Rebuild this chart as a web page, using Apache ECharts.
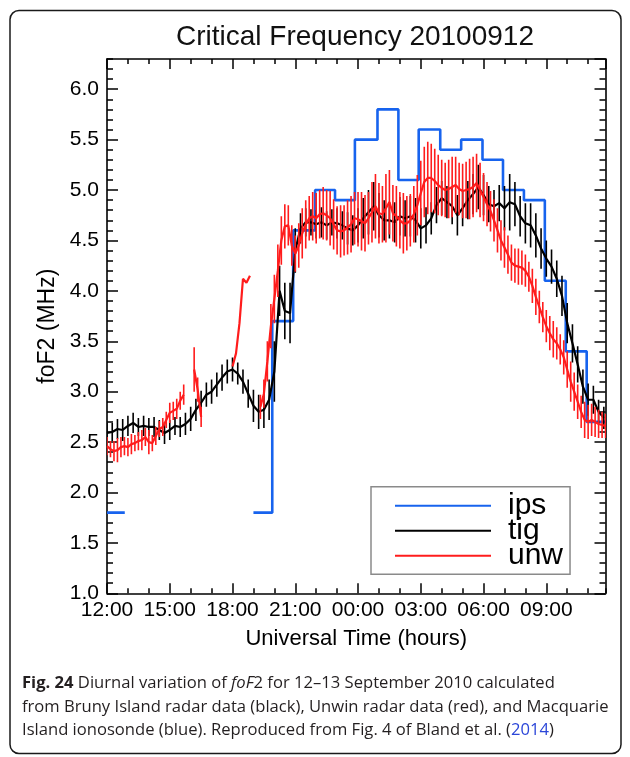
<!DOCTYPE html>
<html><head><meta charset="utf-8">
<script src="https://cdn.jsdelivr.net/npm/echarts@6/dist/echarts.min.js"></script>
<style>html,body{margin:0;padding:0;background:#fff}#c{width:630px;height:757px}</style>
</head><body><div id="c"></div>
<script>
// ---------- data ----------
const xTickLabels = ['12:00','15:00','18:00','21:00','00:00','03:00','06:00','09:00'];
// ips (Macquarie Island ionosonde): time (hours since 00:00 12 Sep) and foF2 (MHz), step values
const ipsTime = [12.0, 12.85, 12.85, 19.0, 19.9, 20.9, 21.95, 22.9, 23.85, 24.93, 25.93, 26.9, 27.93, 28.93, 29.95, 30.93, 31.93, 32.93, 33.93, 34.93, 35.83];
const ipsVal  = [1.8,  1.8,  null,  1.8,  3.7,  4.6,  5.0,   4.9,  5.5,   5.8,   5.1,   5.6,  5.4,   5.5,   5.3,   5.0,   4.9,   4.1,   3.4,   2.7,   2.7];
// tig (Bruny Island radar): 15-min samples from 12:00
const tigStart = 12, tigStep = 0.25;
const tigVal = [
  2.59, 2.60, 2.63, 2.62,  2.66, 2.69, 2.65, 2.66,  2.65, 2.65, 2.62, 2.59,  2.62, 2.66, 2.65, 2.68,
  2.73, 2.82, 2.89, 2.97,  3.00, 3.07, 3.14, 3.20,  3.22, 3.18, 3.10, 2.98,  2.86, 2.80, 2.82, 2.92,
  3.20, 4.00, 3.80, 3.78,  4.40, 4.62, 4.68, 4.68,  4.66, 4.68, 4.65, 4.68,  4.67, 4.65, 4.62, 4.60,
  4.65, 4.72, 4.78, 4.84,  4.75, 4.70, 4.70, 4.68,  4.74, 4.72, 4.74, 4.70,  4.62, 4.65, 4.72, 4.85,
  4.92, 4.88, 4.84, 4.75,  4.82, 4.90, 4.96, 5.03,  4.95, 4.86, 4.84, 4.87,  4.82, 4.88, 4.86, 4.74,
  4.67, 4.65, 4.55, 4.42,  4.32, 4.24, 4.12, 3.95,  3.68, 3.48, 3.27, 3.05,  2.92, 2.92, 2.80, 2.74
];
const tigErr = [
  0.10, 0.09, 0.10, 0.11,  0.10, 0.10, 0.09, 0.10,  0.09, 0.10, 0.10, 0.11,  0.10, 0.09, 0.10, 0.11,
  0.12, 0.11, 0.12, 0.12,  0.12, 0.12, 0.13, 0.12,  0.12, 0.11, 0.12, 0.14,  0.16, 0.17, 0.18, 0.20,
  0.30, 0.25, 0.28, 0.30,  0.22, 0.15, 0.14, 0.13,  0.14, 0.15, 0.14, 0.13,  0.15, 0.14, 0.16, 0.15,
  0.17, 0.20, 0.22, 0.24,  0.22, 0.20, 0.18, 0.20,  0.19, 0.18, 0.20, 0.22,  0.20, 0.18, 0.16, 0.18,
  0.17, 0.16, 0.18, 0.20,  0.18, 0.19, 0.20, 0.22,  0.20, 0.18, 0.16, 0.18,  0.22, 0.28, 0.22, 0.20,
  0.20, 0.22, 0.22, 0.20,  0.18, 0.17, 0.18, 0.20,  0.20, 0.19, 0.18, 0.17,  0.16, 0.14, 0.12, 0.11
];
// unw (Unwin radar): 10-min samples from 12:00
const unwStart = 12, unwStep = 1 / 6;
const unwVal = [
  2.46, 2.43, 2.41, 2.42, 2.45, 2.46,
  2.45, 2.48, 2.49, 2.51, 2.52, 2.55,
  2.50, 2.49, 2.56, 2.63, 2.65, 2.72,
  2.79, 2.81, 2.83, 2.91, 2.97, null,
  null, 3.22, 3.02, 2.75, null, null,
  null, null, null, null, null, null,
  3.25, 3.38, 3.68, 4.12, 4.08, 4.15,
  null, null, 2.85, 2.98, 3.30, 3.65,
  3.92, 4.20, 4.50, 4.64, 4.65, 4.45,
  4.37, 4.45, 4.57, 4.66, 4.72, 4.74,
  4.72, 4.76, 4.77, 4.75, 4.72, 4.66,
  4.60, 4.59, 4.60, 4.63, 4.66, 4.72,
  4.71, 4.69, 4.67, 4.72, 4.78, 4.84,
  4.77, 4.76, 4.82, 4.88, 4.77, 4.74,
  4.70, 4.67, 4.67, 4.70, 4.76, 4.85,
  4.97, 5.08, 5.12, 5.12, 5.09, 5.05,
  5.02, 5.00, 5.01, 5.03, 5.05, 5.01,
  4.99, 5.00, 5.01, 5.03, 5.07, 5.00,
  4.93, 4.86, 4.79, 4.70, 4.60, 4.50,
  4.43, 4.36, 4.28, 4.25, 4.24, 4.23,
  4.20, 4.14, 4.05, 3.94, 3.84, 3.74,
  3.65, 3.58, 3.52, 3.48, 3.42, 3.34,
  3.22, 3.10, 3.00, 2.90, 2.80, 2.72,
  2.70, 2.72, 2.70, 2.68, 2.67, 2.66
];
const unwErr = [
  0.09, 0.08, 0.10, 0.12, 0.10, 0.09,
  0.09, 0.10, 0.08, 0.09, 0.10, 0.09,
  0.12, 0.08, 0.09, 0.08, 0.09, 0.08,
  0.10, 0.09, 0.10, 0.09, 0.10, 0,
  0, 0.22, 0.12, 0.10, 0, 0,
  0, 0, 0, 0, 0, 0,
  0, 0, 0, 0, 0, 0,
  0, 0, 0.12, 0.14, 0.20, 0.22,
  0.24, 0.26, 0.24, 0.22, 0.20, 0.20,
  0.18, 0.22, 0.25, 0.24, 0.22, 0.24,
  0.25, 0.24, 0.26, 0.25, 0.27, 0.25,
  0.24, 0.26, 0.25, 0.27, 0.28, 0.26,
  0.27, 0.29, 0.28, 0.26, 0.30, 0.32,
  0.30, 0.28, 0.34, 0.32, 0.28, 0.30,
  0.28, 0.30, 0.27, 0.26, 0.28, 0.30,
  0.32, 0.35, 0.36, 0.34, 0.32, 0.30,
  0.28, 0.27, 0.29, 0.30, 0.28, 0.26,
  0.27, 0.28, 0.30, 0.30, 0.29, 0.27,
  0.24, 0.22, 0.20, 0.21, 0.22, 0.20,
  0.20, 0.19, 0.18, 0.17, 0.18, 0.17,
  0.16, 0.15, 0.17, 0.18, 0.16, 0.15,
  0.16, 0.17, 0.18, 0.16, 0.15, 0.17,
  0.18, 0.20, 0.19, 0.17, 0.16, 0.18,
  0.17, 0.16, 0.15, 0.14, 0.13, 0.12
];
const seriesNames = ['ips', 'tig', 'unw'];
const titleText = 'Critical Frequency 20100912';
const captionLines = [
  '{b|Fig. 24} Diurnal variation of {i|foF}2 for 12\u201313 September 2010 calculated',
  'from Bruny Island radar data (black), Unwin radar data (red), and Macquarie',
  'Island ionosonde (blue). Reproduced from Fig. 4 of Bland et al. ({l|2014})'
];

// ---------- build ----------
const FONT = "'Liberation Sans', Arial, Helvetica, sans-serif";
const CFONT = "'Open Sans', 'Noto Sans', sans-serif";
const CSIZE = 16.6, CLH = 23.5;
const X_MIN = 12, X_MAX = 35.83, Y_MIN = 1, Y_MAX = 6.3;
const BLUE = '#1763ee', RED = '#ff1c1c', BLACK = '#000000';

const ipsData = ipsTime.map((t, i) => [t, ipsVal[i] == null ? '-' : ipsVal[i]]);
const tigData = tigVal.map((v, i) => [tigStart + i * tigStep, v == null ? '-' : v]);
const unwData = unwVal.map((v, i) => [unwStart + i * unwStep, v == null ? '-' : v]);
function bars(start, step, vals, errs) {
  const out = [];
  vals.forEach((v, i) => { if (v != null && errs[i] > 0) out.push([start + i * step, v - errs[i], v + errs[i]]); });
  return out;
}
const tigBars = bars(tigStart, tigStep, tigVal, tigErr);
const unwBars = bars(unwStart, unwStep, unwVal, unwErr);

function errSeries(data, color) {
  return {
    type: 'custom', data: data, xAxisIndex: 0, yAxisIndex: 0, clip: true, silent: true,
    encode: { x: 0, y: [1, 2] },
    renderItem: function (params, api) {
      const p1 = api.coord([api.value(0), api.value(1)]);
      const p2 = api.coord([api.value(0), api.value(2)]);
      return { type: 'line', shape: { x1: p1[0], y1: p1[1], x2: p2[0], y2: p2[1] },
               style: { stroke: color, lineWidth: 1.6 } };
    }
  };
}

const tickStyle = { color: '#000', width: 1.5 };
function xAx(pos, interval, len, labels, line) {
  return {
    type: 'value', position: pos, min: X_MIN, max: X_MAX, interval: interval, gridIndex: 0,
    axisLine: { show: line, lineStyle: { color: '#000', width: 1.6 } },
    axisTick: { show: true, inside: true, length: len, lineStyle: tickStyle },
    splitLine: { show: false },
    axisLabel: labels ? {
      show: true, showMaxLabel: false, margin: 6, color: '#000', fontSize: 21, fontFamily: FONT,
      formatter: v => xTickLabels[Math.round((v - X_MIN) / 3)] || ''
    } : { show: false },
    name: labels ? 'Universal Time (hours)' : '', nameLocation: 'middle', nameGap: 35,
    nameTextStyle: { color: '#000', fontSize: 22, fontFamily: FONT }
  };
}
function yAx(pos, interval, len, labels, line) {
  return {
    type: 'value', position: pos, min: Y_MIN, max: Y_MAX, interval: interval, gridIndex: 0,
    axisLine: { show: line, lineStyle: { color: '#000', width: 1.6 } },
    axisTick: { show: true, inside: true, length: len, lineStyle: tickStyle },
    splitLine: { show: false },
    axisLabel: labels ? {
      show: true, showMaxLabel: false, margin: 8, color: '#000', fontSize: 21, fontFamily: FONT,
      formatter: v => v.toFixed(1)
    } : { show: false },
    name: labels ? 'foF2 (MHz)' : '', nameLocation: 'middle', nameGap: 30,
    nameTextStyle: { color: '#000', fontSize: 23, fontFamily: FONT }
  };
}

const option = {
  animation: false,
  backgroundColor: '#fff',
  title: { text: titleText, left: 171, top: 18,
           textStyle: { fontSize: 28, fontWeight: 'normal', fontFamily: FONT, color: '#111' } },
  grid: { left: 107, top: 59, width: 498.5, height: 534.3, containLabel: false },
  xAxis: [ xAx('bottom', 3, 10, true, true), xAx('bottom', 1, 5, false, false),
           xAx('top', 3, 10, false, true), xAx('top', 1, 5, false, false) ],
  yAxis: [ yAx('left', 0.5, 11, true, true), yAx('left', 0.1, 6, false, false),
           yAx('right', 0.5, 11, false, true), yAx('right', 0.1, 6, false, false) ],
  legend: {
    data: seriesNames, orient: 'vertical', left: 371, top: 486.7,
    itemWidth: 96, itemHeight: 25, itemGap: -9, selectedMode: false,
    padding: [2, 7, 1.6, 23], borderColor: '#8a8a8a', borderWidth: 1.5,
    itemStyle: { opacity: 0 },
    textStyle: { fontSize: 30, lineHeight: 25, padding: [0, 0, 9, 12], color: '#000', fontFamily: FONT }
  },
  series: [
    { name: seriesNames[0], type: 'line', data: ipsData, step: 'end', showSymbol: false,
      connectNulls: false, lineStyle: { color: BLUE, width: 2.6 }, itemStyle: { color: BLUE }, z: 2 },
    Object.assign(errSeries(tigBars, BLACK), { z: 3 }),
    { name: seriesNames[1], type: 'line', data: tigData, showSymbol: false,
      connectNulls: false, lineStyle: { color: BLACK, width: 2.2 }, itemStyle: { color: BLACK }, z: 4 },
    Object.assign(errSeries(unwBars, RED), { z: 5 }),
    { name: seriesNames[2], type: 'line', data: unwData, showSymbol: false,
      connectNulls: false, lineStyle: { color: RED, width: 2.2 }, itemStyle: { color: RED }, z: 6 }
  ],
  graphic: [
    { type: 'rect', silent: true, shape: { x: 10, y: 10.5, width: 611, height: 743, r: 9 },
      style: { fill: 'none', stroke: '#1a1a1a', lineWidth: 1.5 } },
    { type: 'text', silent: true, x: 22, y: 672,
      style: {
        text: captionLines.join('\n'), fontSize: CSIZE, fontFamily: CFONT,
        lineHeight: CLH, fill: '#231f20', verticalAlign: 'top',
        rich: {
          b: { fontWeight: 'bold', fontSize: CSIZE, lineHeight: CLH, fontFamily: CFONT, fill: '#231f20' },
          i: { fontStyle: 'italic', fontSize: CSIZE, lineHeight: CLH, fontFamily: CFONT, fill: '#231f20' },
          l: { fontSize: CSIZE, lineHeight: CLH, fontFamily: CFONT, fill: '#2b46d8' }
        }
      } }
  ]
};
const chart = echarts.init(document.getElementById('c'), null, { renderer: 'canvas' });
chart.setOption(option);
</script></body></html>
